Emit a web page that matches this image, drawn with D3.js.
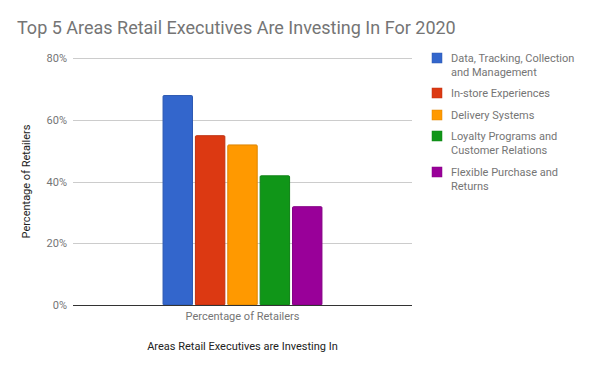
<!DOCTYPE html>
<html>
<head>
<meta charset="utf-8">
<script src="https://cdn.jsdelivr.net/npm/d3@7"></script>
<style>
  body { margin: 0; background: #fff; }
  text { font-family: Roboto, "Noto Sans", sans-serif; }
</style>
</head>
<body>
<div id="chart"></div>
<script>
// data
var categories = ["Percentage of Retailers"];
var seriesNames = [
    ["Data, Tracking, Collection", "and Management"],
    ["In-store Experiences"],
    ["Delivery Systems"],
    ["Loyalty Programs and", "Customer Relations"],
    ["Flexible Purchase and", "Returns"]
];
var seriesValues = [68, 55, 52, 42, 32];
var seriesColors = ["#3366cc", "#dc3912", "#ff9900", "#109618", "#990099"];
var yTicks = [0, 20, 40, 60, 80];

var svgWidth = 600;
var svgHeight = 371;

var margin = { top: 58, right: 188, bottom: 66, left: 73 };
var width = svgWidth - margin.left - margin.right;
var height = svgHeight - margin.top - margin.bottom;

var svg = d3.select("#chart")
    .append("svg")
    .attr("width", svgWidth)
    .attr("height", svgHeight);

svg.append("text")
    .attr("x", 17)
    .attr("y", 34)
    .style("font-size", "18px")
    .style("fill", "#757575")
    .text("Top 5 Areas Retail Executives Are Investing In For 2020");

var chartGroup = svg.append("g")
    .attr("transform", `translate(${margin.left}, ${margin.top})`);

var yScale = d3.scaleLinear()
    .domain([0, 80])
    .range([height, 0]);

var x0 = d3.scaleBand()
    .domain(categories)
    .range([0, width])
    .paddingInner(0)
    .paddingOuter(0.56);

var x1 = d3.scaleBand()
    .domain(d3.range(seriesValues.length))
    .range([0, x0.bandwidth()])
    .paddingInner(0.06);

// gridlines
chartGroup.append("g")
    .selectAll("line")
    .data(yTicks.filter(d => d > 0))
    .enter()
    .append("line")
    .attr("x1", 0)
    .attr("x2", width)
    .attr("y1", d => Math.round(yScale(d)) + 0.5)
    .attr("y2", d => Math.round(yScale(d)) + 0.5)
    .attr("stroke", "#cccccc");

// y axis labels
var leftAxis = d3.axisLeft(yScale)
    .tickValues(yTicks)
    .tickSize(0)
    .tickPadding(6)
    .tickFormat(d => d + "%");

var yAxisG = chartGroup.append("g").call(leftAxis);
yAxisG.select(".domain").remove();
yAxisG.selectAll("text")
    .style("font-size", "11px")
    .style("font-family", "Roboto, sans-serif")
    .style("fill", "#757575");

// bars
var barGroup = chartGroup.selectAll(".cat")
    .data(categories)
    .enter()
    .append("g")
    .attr("transform", d => `translate(${x0(d)}, 0)`);

barGroup.selectAll("rect")
    .data(seriesValues)
    .enter()
    .append("rect")
    .attr("x", (d, i) => x1(i) + 0.5)
    .attr("y", d => yScale(d) + 0.5)
    .attr("width", x1.bandwidth() - 1)
    .attr("height", d => height - yScale(d) - 0.5)
    .attr("rx", 1)
    .attr("fill", (d, i) => seriesColors[i])
    .attr("stroke", (d, i) => d3.color(seriesColors[i]).darker(0.4))
    .attr("stroke-width", 1);

// baseline
chartGroup.append("line")
    .attr("x1", 0)
    .attr("x2", width)
    .attr("y1", height + 0.5)
    .attr("y2", height + 0.5)
    .attr("stroke", "#333333")
    .attr("stroke-width", 1);

// x axis category label
var bottomAxis = d3.axisBottom(x0).tickSize(0).tickPadding(7);
var xAxisG = chartGroup.append("g")
    .attr("transform", `translate(0, ${height})`)
    .call(bottomAxis);
xAxisG.select(".domain").remove();
xAxisG.selectAll("text")
    .style("font-size", "11px")
    .style("font-family", "Roboto, sans-serif")
    .style("fill", "#757575");

// axis titles
chartGroup.append("text")
    .attr("transform", "rotate(-90)")
    .attr("x", 0 - (height / 2))
    .attr("y", -43)
    .style("text-anchor", "middle")
    .style("font-size", "11px")
    .style("fill", "#222222")
    .text("Percentage of Retailers");

chartGroup.append("text")
    .attr("x", width / 2)
    .attr("y", height + 45)
    .style("text-anchor", "middle")
    .style("font-size", "11px")
    .style("fill", "#222222")
    .text("Areas Retail Executives are Investing In");

// legend
var legendY = [58, 93, 115, 136, 172];
var legend = svg.append("g");
seriesNames.forEach(function(lines, i) {
    var g = legend.append("g")
        .attr("transform", `translate(432, ${legendY[i]})`);
    g.append("rect")
        .attr("x", 0)
        .attr("y", -5)
        .attr("width", 10)
        .attr("height", 10)
        .attr("fill", seriesColors[i])
        .attr("stroke", d3.color(seriesColors[i]).darker(0.4))
        .attr("stroke-width", 0.5);
    lines.forEach(function(t, j) {
        g.append("text")
            .attr("x", 19)
            .attr("y", 4 + j * 13.5)
            .style("font-size", "11px")
            .style("fill", "#757575")
            .text(t);
    });
});
</script>
</body>
</html>
